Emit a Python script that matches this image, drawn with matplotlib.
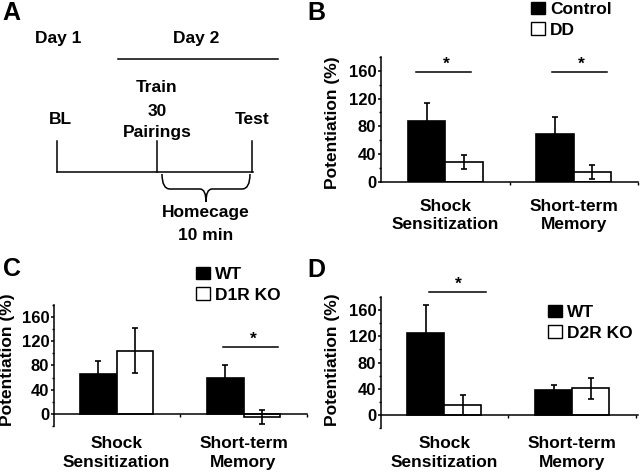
import matplotlib
matplotlib.use("Agg")
import matplotlib.pyplot as plt
import numpy as np
from matplotlib.patches import Patch, PathPatch
from matplotlib.path import Path
from matplotlib.transforms import blended_transform_factory

plt.rcParams['font.family'] = ['Liberation Sans', 'DejaVu Sans']
plt.rcParams['font.weight'] = 'bold'

groups = ['Shock\nSensitization', 'Short-term\nMemory']

# panel B
control_mean = [88, 69]
control_err = [25, 24]
dd_mean = [29, 14.5]
dd_err = [10, 10]

# panel C
wt1_mean = [66, 60]
wt1_err = [22, 20]
d1r_mean = [104, -5]
d1r_err = [37, 12]

# panel D
wt2_mean = [125.5, 38]
wt2_err = [42, 8]
d2r_mean = [15, 40.5]
d2r_err = [15.5, 16]

W, H = 640, 476
fig = plt.figure(figsize=(6.4, 4.76), dpi=100)

# full-figure pixel axes for panel A, letters and y labels
bg = fig.add_axes([0, 0, 1, 1])
bg.set_xlim(0, W)
bg.set_ylim(H, 0)
bg.axis('off')


def px(x0, y_top, x1, y_bot):
    return [x0 / W, 1 - y_bot / H, (x1 - x0) / W, (y_bot - y_top) / H]


def bar_panel(rect, ylim, xlim, m1, e1, m2, e2, labels, leg_xy, sig, label_y):
    ax = fig.add_axes(rect)
    x = np.arange(len(groups))
    w = 0.29
    ax.bar(x - w / 2, m1, w, color='black', edgecolor='black', linewidth=1.2, zorder=2)
    ax.bar(x + w / 2, m2, w, color='white', edgecolor='black', linewidth=1.2, zorder=2)
    ax.errorbar(x - w / 2, m1, yerr=e1, fmt='none', ecolor='black', elinewidth=1.2,
                capsize=2.2, capthick=1.2, zorder=3)
    ax.errorbar(x + w / 2, m2, yerr=e2, fmt='none', ecolor='black', elinewidth=1.2,
                capsize=2.2, capthick=1.2, zorder=3)
    ax.set_xlim(*xlim)
    ax.set_ylim(*ylim)
    for s in ['top', 'right']:
        ax.spines[s].set_visible(False)
    ax.spines['bottom'].set_position(('data', 0))
    for s in ['left', 'bottom']:
        ax.spines[s].set_linewidth(1.1)
    ax.set_yticks([0, 40, 80, 120, 160])
    if ylim[0] < 0:
        ax.set_yticks([-20, 20, 60, 100, 140, 180], minor=True)
    else:
        ax.set_yticks([20, 60, 100, 140, 180], minor=True)
    ax.tick_params(axis='y', which='major', length=2.5, width=1.1, pad=1, labelsize=12)
    ax.tick_params(axis='y', which='minor', length=1.8, width=1.0)
    ax.set_xticks([0.5, 1.5])
    ax.set_xticklabels([])
    ax.tick_params(axis='x', length=2.5, width=1.0)
    tr = blended_transform_factory(ax.transData, fig.transFigure)
    for xi, g in zip(x, groups):
        ax.text(xi, 1 - label_y / H, g, transform=tr, ha='center', va='center',
                fontsize=12.5, linespacing=1.3)
    handles = [Patch(facecolor='black', edgecolor='black', linewidth=1.0),
               Patch(facecolor='white', edgecolor='black', linewidth=1.0)]
    ax.legend(handles, labels, loc='upper left', bbox_to_anchor=(leg_xy[0] / W, 1 - leg_xy[1] / H),
              bbox_transform=fig.transFigure, frameon=False, borderpad=0, borderaxespad=0,
              handlelength=0.8, handleheight=0.7, handletextpad=0.3, labelspacing=0.3,
              prop={'weight': 'bold', 'size': 12.5})
    for (xs, xe, ys, xstar) in sig:
        ax.plot([xs, xe], [ys, ys], color='black', lw=1.1, clip_on=False)
        ax.text(xstar, ys, '*', ha='center', va='bottom', fontsize=12.5, clip_on=False)
    return ax


# B
bar_panel(px(381, 57, 638, 181.7), (0, 180), (-0.5, 1.48), control_mean, control_err,
          dd_mean, dd_err, ['Control', 'DD'], (531, 2),
          [(-0.23, 0.2, 158, 0.01), (0.83, 1.26, 158, 1.06)], 215.5)
# C
bar_panel(px(54, 304.6, 307, 426.2), (-20, 180), (-0.494, 1.498), wt1_mean, wt1_err,
          d1r_mean, d1r_err, ['WT', 'D1R KO'], (196, 267),
          [(0.835, 1.27, 110.7, 1.075)], 453)
# D
bar_panel(px(381, 297, 638, 428.1), (-20, 180), (-0.494, 1.514), wt2_mean, wt2_err,
          d2r_mean, d2r_err, ['WT', 'D2R KO'], (548, 305),
          [(-0.117, 0.323, 188, 0.11)], 453)

# y labels
for (xl, yl) in [(333, 123), (8, 360), (333, 360)]:
    bg.text(xl, yl, 'Potentiation (%)', rotation=90, ha='center', va='center', fontsize=12.5)

# panel letters
for (lx, ly, s) in [(11, 12.5, 'A'), (316, 12.5, 'B'), (12.5, 268.5, 'C'), (316, 270, 'D')]:
    bg.text(lx, ly, s, ha='center', va='center', fontsize=18)

# panel A schematic
lw = 1.1
bg.plot([118, 278], [59, 59], color='black', lw=lw)
bg.plot([57, 253], [172, 172], color='black', lw=lw)
for xv in [57, 157, 252]:
    bg.plot([xv, xv], [141, 172], color='black', lw=lw)
brace = Path([(162, 174), (162, 189), (170, 189), (200, 189), (206, 189), (206, 202),
              (206, 189), (212, 189), (242, 189), (250, 189), (250, 174)],
             [Path.MOVETO, Path.CURVE3, Path.CURVE3, Path.LINETO, Path.CURVE3, Path.CURVE3,
              Path.CURVE3, Path.CURVE3, Path.LINETO, Path.CURVE3, Path.CURVE3])
bg.add_patch(PathPatch(brace, facecolor='none', edgecolor='black', lw=lw))
for (tx, ty, s) in [(58, 38, 'Day 1'), (196, 38, 'Day 2'), (157, 88, 'Train'), (157, 111, '30'),
                    (157, 132, 'Pairings'), (60, 120, 'BL'), (252, 120, 'Test'),
                    (206, 213, 'Homecage'), (206, 236, '10 min')]:
    bg.text(tx, ty, s, ha='center', va='center', fontsize=12.5)

fig.savefig('out.png', dpi=100)
